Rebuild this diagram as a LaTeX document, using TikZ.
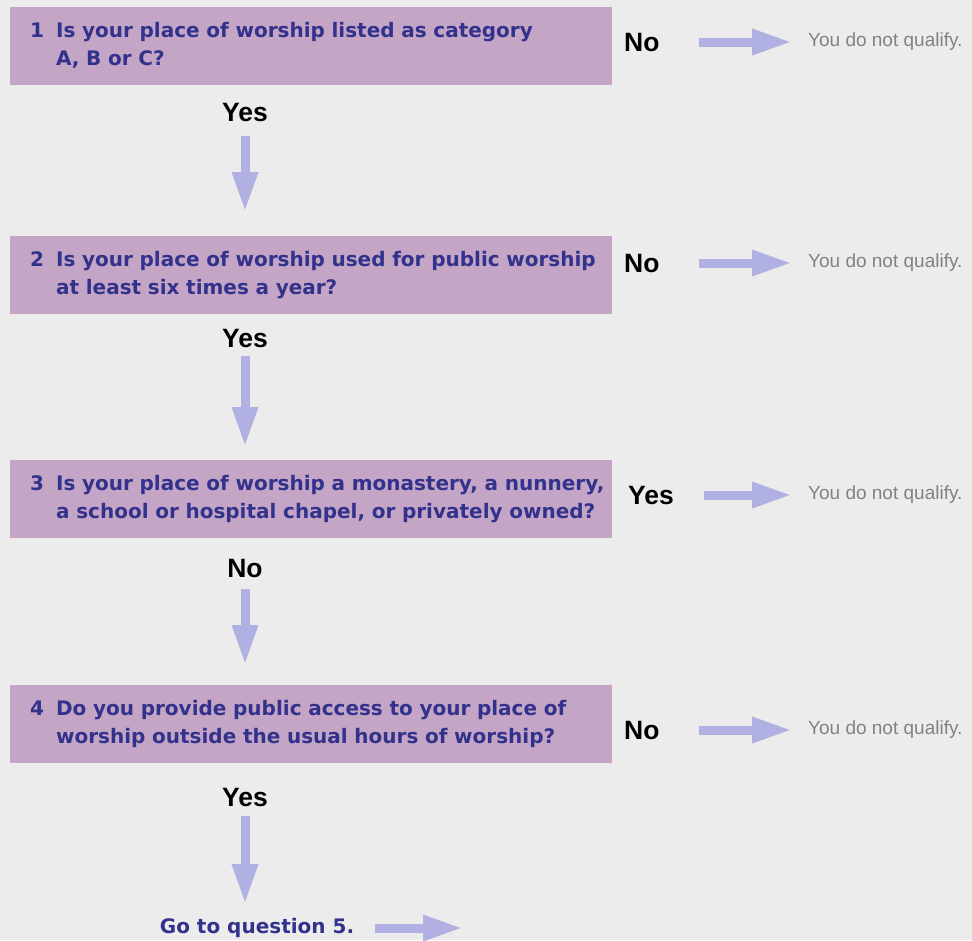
\documentclass[tikz,border=0pt]{standalone}
\usepackage{fontspec}
\setmainfont{Liberation Sans}
\newfontfamily\questionfont{DejaVu Sans}
\usetikzlibrary{arrows.meta}
\definecolor{fond}{RGB}{236,236,236}
\definecolor{boite}{RGB}{197,165,198}
\definecolor{encre}{RGB}{50,50,140}
\definecolor{fleche}{RGB}{176,176,226}
\definecolor{gris}{RGB}{130,130,130}
\begin{document}
\begin{tikzpicture}[x=1pt, y=-1pt,
    question/.style = {fill=boite, anchor=north west, minimum width=602pt,
      minimum height=78pt, inner xsep=20pt, text width=562pt, align=left,
      text=encre, font=\questionfont\bfseries\fontsize{20}{28}\selectfont},
    answer/.style = {inner sep=0pt, text height=19pt, text depth=0pt,
      font=\bfseries\fontsize{26.5}{28}\selectfont},
    result/.style = {anchor=west, inner sep=0pt, text=gris,
      font=\fontsize{19}{21}\selectfont},
    flow/.style = {fleche, line width=9pt, -{Triangle[length=40pt,width=24pt]}}
  ]
    % background
    \fill[fond] (0,0) rectangle (972,940);
    % questions
    \node[question] (Q1) at (10,7)
      {\begin{tabular}{@{}l@{\hspace{12pt}}l@{}}1 & Is your place of worship listed as category\\ & A, B or C?\end{tabular}};
    \node[question] (Q2) at (10,236)
      {\begin{tabular}{@{}l@{\hspace{12pt}}l@{}}2 & Is your place of worship used for public worship\\ & at least six times a year?\end{tabular}};
    \node[question] (Q3) at (10,460)
      {\begin{tabular}{@{}l@{\hspace{12pt}}l@{}}3 & Is your place of worship a monastery, a nunnery,\\ & a school or hospital chapel, or privately owned?\end{tabular}};
    \node[question] (Q4) at (10,685)
      {\begin{tabular}{@{}l@{\hspace{12pt}}l@{}}4 & Do you provide public access to your place of\\ & worship outside the usual hours of worship?\end{tabular}};
    % answers
    \path[answer]
      (624,42) node[anchor=west] (N1) {No}
      (245,112) node (Y1) {Yes}
      (624,263) node[anchor=west] (N2) {No}
      (245,338) node (Y2) {Yes}
      (628,495) node[anchor=west] (Y3) {Yes}
      (245,568) node (N3) {No}
      (624,730) node[anchor=west] (N4) {No}
      (245,797) node (Y4) {Yes}
    ;
    % results
    \path[result]
      (808,42) node (R1) {You do not qualify.}
      (808,263) node (R2) {You do not qualify.}
      (808,495) node (R3) {You do not qualify.}
      (808,730) node (R4) {You do not qualify.}
    ;
    \node[text=encre, inner sep=0pt, font=\questionfont\bfseries\fontsize{20}{22}\selectfont]
      (G) at (257,928) {Go to question 5.};
    \coordinate (G5) at (463,928);
    % side arrows
    \foreach \a/\r/\s in {N1/R1/39pt, N2/R2/39pt, Y3/R3/30pt, N4/R4/39pt}{
      \draw[flow, shorten <=\s, shorten >=16pt] (\a) -- (\r);
    }
    % down arrows
    \foreach \a/\b/\s/\t in {Y1/Q2.north/14pt/24pt, Y2/Q3.north/8pt/13pt,
                             N3/Q4.north/11pt/20pt, Y4/G.north/9pt/14pt}{
      \draw[flow, shorten <=\s, shorten >=\t] (\a.south) -- (\a |- \b);
    }
    \draw[flow, shorten <=21pt] (G) -- (G5);
  \end{tikzpicture}
\end{document}
